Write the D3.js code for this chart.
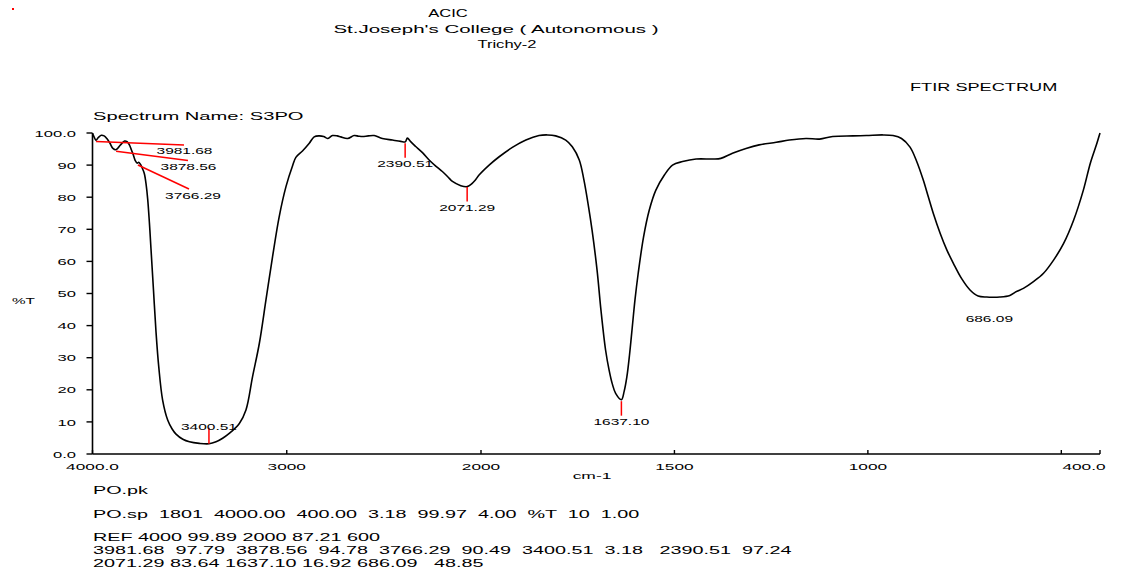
<!DOCTYPE html>
<html>
<head>
<meta charset="utf-8">
<script src="https://cdn.jsdelivr.net/npm/d3@7"></script>
<style>
  body { margin: 0; background: #fff; }
  svg { display: block; }
  text { font-family: "Liberation Sans", Arial, sans-serif; fill: #000; white-space: pre; }
</style>
</head>
<body>
<div id="chart"></div>
<script>
// spectrum (cm-1, %T)
const wavenumbers = [4000,3992,3982,3970,3955,3940,3925,3910,3895,3880,3865,3850,3835,3822,3810,3800,3790,3780,3770,3762,3752,3742,3733,3724,3716,3707,3699,3686,3673,3659,3639,3613,3590,3570,3535,3501,3450,3400,3364,3330,3296,3244,3210,3176,3141,3107,3073,3039,3004,2970,2953,2919,2884,2859,2833,2810,2790,2765,2740,2722,2687,2653,2630,2610,2580,2550,2508,2456,2413,2390,2379,2362,2336,2300,2267,2233,2199,2170,2147,2104,2071,2053,2030,2010,1979,1953,1919,1884,1850,1828,1807,1781,1764,1746,1734,1722,1713,1700,1690,1678,1669,1661,1652,1637,1630,1623,1616,1609,1602,1594,1580,1565,1548,1526,1505,1479,1444,1401,1380,1350,1315,1281,1237,1203,1160,1125,1091,1039,1004,961,935,913,891,874,857,844,831,813,796,779,758,736,715,693,686,659,633,616,598,572,546,520,494,468,443,425,408,400];
const transmittance = [99.9,98.8,97.7,98.6,99.3,99.1,98.2,96.8,95.2,94.8,95.6,96.7,97.5,97.3,96.3,94.8,93.2,91.4,90.6,90.9,90.1,88.8,87.3,84.0,79.5,72.0,64.0,51.0,38.0,27.2,16.8,10.6,7.8,6.2,4.6,3.8,3.3,3.18,3.8,4.9,6.4,9.5,13.7,24.1,34.5,48.0,61.5,73.9,83.3,89.8,92.4,94.4,96.8,98.8,99.1,98.9,98.3,99.2,99.1,98.8,98.3,99.2,99.0,98.9,99.1,99.2,98.3,97.8,97.4,97.24,98.4,97.3,95.8,93.8,91.6,89.7,88.0,86.3,84.9,83.6,83.3,83.9,85.3,86.9,90.0,92.6,95.5,97.8,99.2,99.4,99.1,97.8,95.7,91.6,85.4,77.0,69.8,57.3,44.9,32.4,26.2,22.0,18.9,16.92,19.5,24.0,31.0,39.5,48.0,56.0,67.5,76.0,82.2,86.9,90.0,91.1,91.9,91.9,92.1,93.7,95.2,96.3,97.1,97.8,98.3,98.1,98.9,99.1,99.2,99.4,99.2,98.3,95.6,91.2,85.4,80.2,75.0,68.7,63.6,59.4,54.7,51.1,49.2,48.9,48.85,48.9,49.4,50.6,51.6,53.7,56.3,60.4,65.6,72.9,82.2,90.6,96.8,99.97];

const peakWn = [3981.68, 3878.56, 3766.29, 3400.51, 2390.51, 2071.29, 1637.10, 686.09];
const peakT = [97.79, 94.78, 90.49, 3.18, 97.24, 83.64, 16.92, 48.85];
const peakLabels = ["3981.68", "3878.56", "3766.29", "3400.51", "2390.51", "2071.29", "1637.10", "686.09"];

const yTicks = [0, 10, 20, 30, 40, 50, 60, 70, 80, 90, 100];
const yTickLabels = ["0.0", "10", "20", "30", "40", "50", "60", "70", "80", "90", "100.0"];
const xTicks = [4000, 3000, 2000, 1500, 1000, 500, 400];
const xTickLabels = ["4000.0", "3000", "2000", "1500", "1000", "", "400.0"];

const titleLines = ["ACIC", "St.Joseph's College ( Autonomous )", "Trichy-2"];
const footerLines = [
  "PO.pk",
  "PO.sp  1801  4000.00  400.00  3.18  99.97  4.00  %T  10  1.00",
  "REF 4000 99.89 2000 87.21 600",
  "3981.68  97.79  3878.56  94.78  3766.29  90.49  3400.51  3.18   2390.51  97.24",
  "2071.29 83.64 1637.10 16.92 686.09   48.85"
];

const width = 1130, height = 574;
const SX = 1.8; // the printout is stretched sideways

const svg = d3.select("#chart").append("svg")
  .attr("width", width)
  .attr("height", height);

// instrument axis: 4000-2000 at half the scale of 2000-400
const x = d3.scaleLinear().domain([4000, 2000, 400]).range([92.5, 481, 1100]);
const y = d3.scaleLinear().domain([0, 100]).range([454, 133]);

function txt(str, px, py, size, anchor, sx) {
  return svg.append("g")
    .attr("transform", "translate(" + px + "," + py + ") scale(" + (sx || SX) + ",1)")
    .append("text")
    .attr("text-anchor", anchor || "start")
    .style("font-size", size + "px")
    .text(str);
}

// little red mark top-left
svg.append("rect").attr("x", 12).attr("y", 8).attr("width", 2).attr("height", 2).attr("fill", "#f00");

// header
const titleX = [448, 496, 507];
const titleSX = [1.45, 1.8, 1.45];
titleLines.forEach((t, i) => txt(t, titleX[i], 17 + i * 15.5, 11.4, "middle", titleSX[i]));
txt("FTIR SPECTRUM", 910, 91, 10.1, "start");
txt("Spectrum Name: S3PO", 93, 120, 11.2, "start");

// axes
const axisY = svg.append("g").attr("transform", "translate(92.5,0)");
axisY.append("line").attr("y1", y(100)).attr("y2", y(0)).attr("stroke", "#000").attr("stroke-width", 1.6);
yTicks.forEach(v => {
  axisY.append("line").attr("x1", -6).attr("x2", 0).attr("y1", y(v)).attr("y2", y(v))
    .attr("stroke", "#000").attr("stroke-width", 1.4);
});
yTickLabels.forEach((s, i) => txt(s, 76, y(yTicks[i]) + 3.6, 9.2, "end"));
txt("%T", 12, 304, 8.5, "start");

const axisX = svg.append("g").attr("transform", "translate(0," + y(0) + ")");
axisX.append("line").attr("x1", x(4000)).attr("x2", x(400)).attr("stroke", "#000").attr("stroke-width", 1.6);
xTicks.forEach(v => {
  axisX.append("line").attr("x1", x(v)).attr("x2", x(v)).attr("y1", -4).attr("y2", 0)
    .attr("stroke", "#000").attr("stroke-width", 1.4);
});
xTickLabels.forEach((s, i) => {
  if (s) txt(s, x(xTicks[i]) - (i == xTickLabels.length - 1 ? 16 : 0), y(0) + 16, 9.6, "middle");
});
txt("cm-1", 592, 479, 9.7, "middle");

// spectrum
const pts = wavenumbers.map((w, i) => [w, transmittance[i]]);
const line = d3.line()
  .x(d => x(d[0]))
  .y(d => y(d[1]))
  .curve(d3.curveCatmullRom.alpha(0.5));

svg.append("path")
  .datum(pts)
  .attr("d", line)
  .attr("fill", "none")
  .attr("stroke", "#000")
  .attr("stroke-width", 1.6);

// peak marks
const red = "#ff0000";
const leaderEnd = [[184, 145], [188, 160.5], [189, 189]];
const leaderText = [[184.5, 154], [188.5, 169.5], [193, 199]];
peakWn.forEach((w, i) => {
  const px = x(w), py = y(peakT[i]);
  if (i < 3) {
    svg.append("line").attr("x1", px).attr("y1", py + 1.5).attr("x2", leaderEnd[i][0]).attr("y2", leaderEnd[i][1])
      .attr("stroke", red).attr("stroke-width", 1.5);
    txt(peakLabels[i], leaderText[i][0], leaderText[i][1], 8.6, "middle");
  } else if (i == 3) {
    svg.append("line").attr("x1", px).attr("x2", px).attr("y1", py).attr("y2", py - 16)
      .attr("stroke", red).attr("stroke-width", 1.5);
    txt(peakLabels[i], px, py - 13.5, 8.6, "middle");
  } else {
    if (i < peakWn.length - 1) {
      svg.append("line").attr("x1", px).attr("x2", px).attr("y1", py + 1.5).attr("y2", py + 16)
        .attr("stroke", red).attr("stroke-width", 1.5);
    }
    txt(peakLabels[i], px, py + 25, 8.6, "middle");
  }
});

// footer listing
const footerY = [494, 518, 541, 554, 567];
footerLines.forEach((t, i) => txt(t, 93, footerY[i], 11, "start"));
</script>
</body>
</html>
